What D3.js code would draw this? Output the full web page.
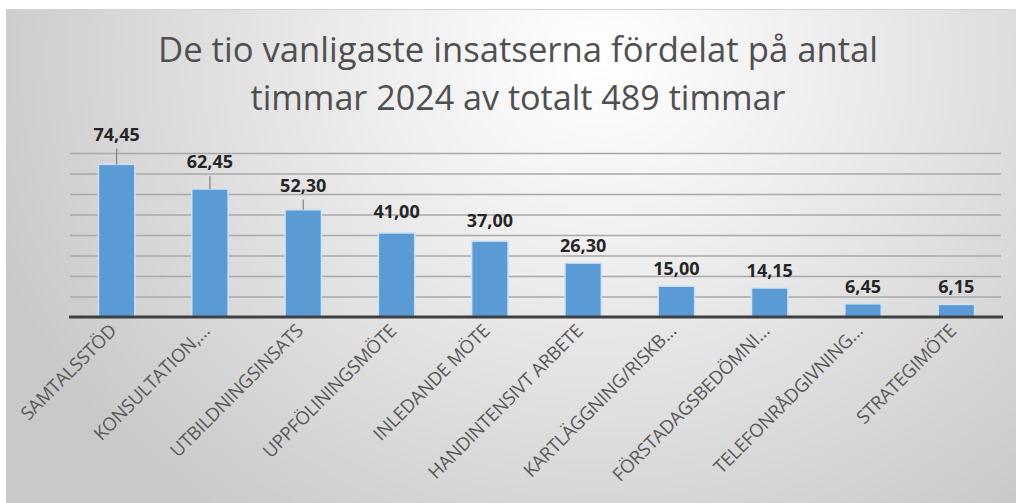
<!DOCTYPE html>
<html>
<head>
<meta charset="utf-8">
<script src="https://cdn.jsdelivr.net/npm/d3@7"></script>
<style>
  body { margin: 0; background: #fff; }
  svg { display: block; }
</style>
</head>
<body>
<div id="chart"></div>
<script>
// data
const categories = ["SAMTALSSTÖD", "KONSULTATION,…", "UTBILDNINGSINSATS", "UPPFÖLININGSMÖTE",
  "INLEDANDE MÖTE", "HANDINTENSIVT ARBETE", "KARTLÄGGNING/RISKB…", "FÖRSTADAGSBEDÖMNI…",
  "TELEFONRÅDGIVNING…", "STRATEGIMÖTE"];
const hours = [74.45, 62.45, 52.30, 41.00, 37.00, 26.30, 15.00, 14.15, 6.45, 6.15];
const gridTicks = [10, 20, 30, 40, 50, 60, 70, 80];
const titleLines = ["De tio vanligaste insatserna fördelat på antal", "timmar 2024 av totalt 489 timmar"];

const width = 1016, height = 503;
const plot = { left: 70, right: 1003, top: 153, bottom: 317 };

const svg = d3.select("#chart").append("svg")
    .attr("width", width)
    .attr("height", height);

// background gradient
const defs = svg.append("defs");
const grad = defs.append("radialGradient")
    .attr("id", "bg")
    .attr("gradientUnits", "userSpaceOnUse")
    .attr("cx", 600).attr("cy", 60).attr("r", 640)
    .attr("gradientTransform", "translate(600,60) scale(1,0.9) translate(-600,-60)");
grad.append("stop").attr("offset", "0%").attr("stop-color", "#ffffff");
grad.append("stop").attr("offset", "35%").attr("stop-color", "#eeeeee");
grad.append("stop").attr("offset", "100%").attr("stop-color", "#c9c9c9");

svg.append("rect")
    .attr("x", 6).attr("y", 9)
    .attr("width", width - 6).attr("height", height - 9)
    .attr("fill", "url(#bg)");
svg.append("line")
    .attr("x1", 6).attr("x2", width)
    .attr("y1", 9.5).attr("y2", 9.5)
    .attr("stroke", "#d4d4d4");

// title
svg.append("g")
    .selectAll("text")
    .data(titleLines)
    .join("text")
    .attr("x", 518)
    .attr("y", (d, i) => 62 + i * 48)
    .attr("text-anchor", "middle")
    .attr("textLength", (d, i) => i == 0 ? 720 : 535)
    .attr("lengthAdjust", "spacingAndGlyphs")
    .style("font-family", "'Open Sans', sans-serif")
    .style("font-size", "35px")
    .style("fill", "#505050")
    .text(d => d);

// scales
const x = d3.scaleBand()
    .domain(categories)
    .range([plot.left, plot.right])
    .paddingInner(0.61)
    .paddingOuter(0.305);

const y = d3.scaleLinear()
    .domain([0, 80])
    .range([plot.bottom, plot.top]);

// gridlines
svg.append("g")
    .attr("transform", `translate(${plot.left},0)`)
    .call(d3.axisLeft(y).tickValues(gridTicks).tickSize(-(plot.right - plot.left - 2)).tickFormat(""))
    .call(g => g.select(".domain").remove())
    .call(g => g.selectAll(".tick line").attr("stroke", "#a9a9a9").attr("stroke-width", 1.3));

// bars
svg.append("g")
    .selectAll("rect")
    .data(hours)
    .join("rect")
    .attr("x", (d, i) => x(categories[i]))
    .attr("y", d => y(d))
    .attr("width", x.bandwidth())
    .attr("height", d => y(0) - y(d))
    .attr("fill", "#5b9bd5")
    .attr("stroke", "#cfe2f5")
    .attr("stroke-width", 1.5);

// baseline
svg.append("line")
    .attr("x1", plot.left - 1).attr("x2", plot.right)
    .attr("y1", y(0)).attr("y2", y(0))
    .attr("stroke", "#404040")
    .attr("stroke-width", 3);

// value labels, bigger bars had their labels pulled up with leader lines
const lift = v => 11 + Math.max(0, v - 25) * 0.26;
const fmt = v => v.toFixed(2).replace(".", ",");

const labels = svg.append("g");
labels.selectAll("line")
    .data(hours.filter(d => d > 50))
    .join("line")
    .attr("x1", (d, i) => x(categories[i]) + x.bandwidth() / 2)
    .attr("x2", (d, i) => x(categories[i]) + x.bandwidth() / 2)
    .attr("y1", d => y(d) - lift(d) + 8)
    .attr("y2", d => y(d))
    .attr("stroke", "#7f7f7f")
    .attr("stroke-width", 1.2);

labels.selectAll("text")
    .data(hours)
    .join("text")
    .attr("x", (d, i) => x(categories[i]) + x.bandwidth() / 2)
    .attr("y", d => y(d) - lift(d))
    .attr("text-anchor", "middle")
    .style("font-family", "'Open Sans', sans-serif")
    .style("font-weight", "bold")
    .style("font-size", "18px")
    .style("fill", "#262626")
    .text(d => fmt(d));

// category labels
svg.append("g")
    .selectAll("text")
    .data(categories)
    .join("text")
    .attr("transform", d => `translate(${x(d) + x.bandwidth() / 2 + 1},${plot.bottom + 15}) rotate(-45)`)
    .attr("text-anchor", "end")
    .style("font-family", "'Open Sans', sans-serif")
    .style("font-size", "18.5px")
    .style("letter-spacing", "-0.2px")
    .style("fill", "#595959")
    .text(d => d);
</script>
</body>
</html>
